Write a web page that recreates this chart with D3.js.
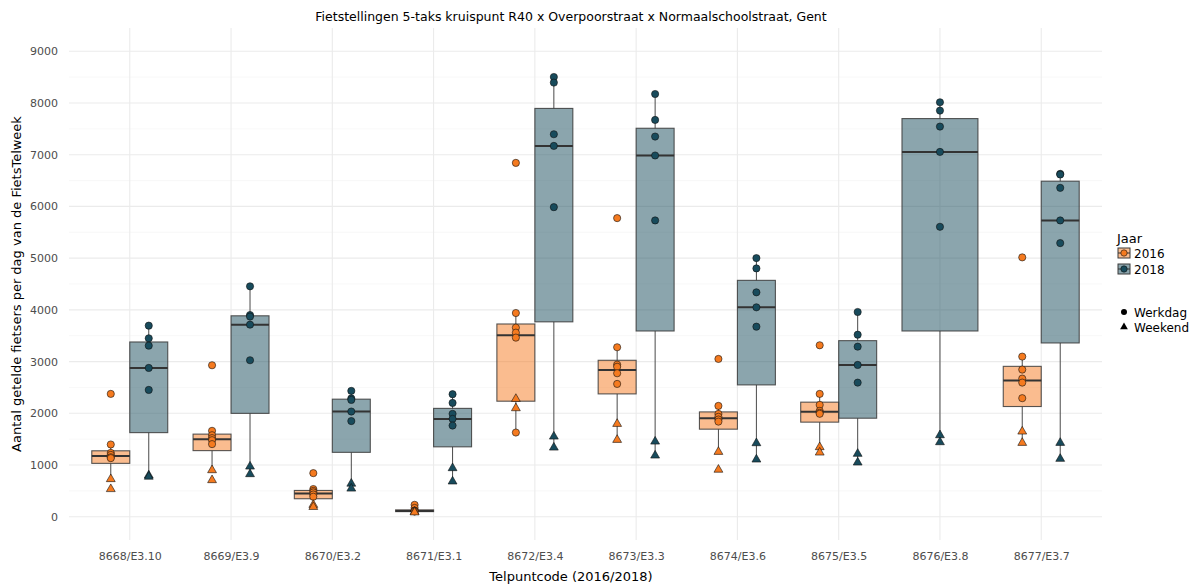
<!DOCTYPE html>
<html lang="nl">
<head>
<meta charset="UTF-8">
<title>Fietstellingen R40</title>
<style>
  body { margin: 0; background: #ffffff; }
  svg { display: block; font-family: "DejaVu Sans", sans-serif; }
</style>
<script src="https://d3js.org/d3.v7.min.js"></script>
</head>
<body>
<script>
const width = 1200;
const height = 588;

// telpunten
const categories = ["8668/E3.10", "8669/E3.9", "8670/E3.2", "8671/E3.1", "8672/E3.4",
                    "8673/E3.3", "8674/E3.6", "8675/E3.5", "8676/E3.8", "8677/E3.7"];
const years = ["2016", "2018"];

const werkdag2016 = [
  [2375, 1397, 1234, 1195, 1150, 1133],
  [2929, 1661, 1576, 1520, 1480, 1404],
  [843, 535, 499, 470, 430, 387],
  [230, 170, 120, 115, 110, 100],
  [6842, 3939, 3656, 3559, 3463, 1628],
  [5774, 3277, 2941, 2900, 2774, 2568],
  [3051, 2143, 1988, 1932, 1880, 1839],
  [3315, 2375, 2162, 2046, 2010, 1990],
  [],
  [5015, 3096, 2845, 2671, 2593, 2292]
];
const weekend2016 = [
  [728, 535],
  [901, 708],
  [230, 190],
  [95, 85],
  [2279, 2099],
  [1796, 1487],
  [1255, 910],
  [1346, 1242],
  [],
  [1648, 1429]
];
const werkdag2018 = [
  [3695, 3450, 3308, 2877, 2452],
  [4455, 3900, 3870, 3714, 3026],
  [2433, 2287, 2259, 2034, 1850],
  [2369, 2201, 1989, 1892, 1763],
  [8503, 8394, 7396, 7170, 5986],
  [8174, 7672, 7351, 6985, 5729],
  [5001, 4802, 4339, 4049, 3675],
  [3959, 3520, 3289, 2935, 2593],
  [8014, 7853, 7544, 7054, 5606],
  [6630, 6617, 6359, 5729, 5291]
];
const weekend2018 = [
  [800, 775],
  [971, 824],
  [640, 545],
  [940, 682],
  [1551, 1338],
  [1454, 1184],
  [1423, 1107],
  [1217, 1049],
  [1577, 1442],
  [1429, 1120]
];
const yTicks = [0, 1000, 2000, 3000, 4000, 5000, 6000, 7000, 8000, 9000];
const yMinor = [500, 1500, 2500, 3500, 4500, 5500, 6500, 7500, 8500];

const colors = { "2016": "#f57a1f", "2018": "#184b5c" };

const panel = { left: 69, right: 1102, top: 28, bottom: 540 };

const x = d3.scalePoint()
  .domain(categories)
  .range([panel.left, panel.right])
  .padding(0.6);
const step = x.step();

const y = d3.scaleLinear()
  .domain([-450, 9450])
  .range([panel.bottom, panel.top]);

const svg = d3.select("body").append("svg")
  .attr("width", width)
  .attr("height", height);

// rooster
svg.append("g").selectAll("line")
  .data(yMinor).join("line")
  .attr("x1", panel.left).attr("x2", panel.right)
  .attr("y1", d => y(d)).attr("y2", d => y(d))
  .attr("stroke", "#f4f4f4").attr("stroke-width", 0.6);
svg.append("g").selectAll("line")
  .data(yTicks).join("line")
  .attr("x1", panel.left).attr("x2", panel.right)
  .attr("y1", d => y(d)).attr("y2", d => y(d))
  .attr("stroke", "#ebebeb").attr("stroke-width", 1.1);
svg.append("g").selectAll("line")
  .data(categories).join("line")
  .attr("x1", d => x(d)).attr("x2", d => x(d))
  .attr("y1", panel.top).attr("y2", panel.bottom)
  .attr("stroke", "#ebebeb").attr("stroke-width", 1.1);

// assen
const yAxis = svg.append("g")
  .attr("transform", `translate(${panel.left - 11},0)`)
  .call(d3.axisLeft(y).tickValues(yTicks).tickFormat(d3.format("d")).tickSize(0).tickPadding(0));
const xAxis = svg.append("g")
  .attr("transform", `translate(0,${panel.bottom + 12})`)
  .call(d3.axisBottom(x).tickSize(0).tickPadding(0));
[yAxis, xAxis].forEach(g => {
  g.select(".domain").remove();
  g.selectAll("text")
    .attr("fill", "#4d4d4d")
    .style("font-size", "11px")
    .style("font-family", "DejaVu Sans");
});
xAxis.selectAll("text").attr("dy", "0.71em");

// boxplot statistieken
function boxStats(values) {
  const v = values.slice().sort(d3.ascending);
  const q1 = d3.quantileSorted(v, 0.25);
  const med = d3.quantileSorted(v, 0.5);
  const q3 = d3.quantileSorted(v, 0.75);
  const iqr = q3 - q1;
  const lo = d3.min(v.filter(d => d >= q1 - 1.5 * iqr));
  const hi = d3.max(v.filter(d => d <= q3 + 1.5 * iqr));
  return { q1, med, q3, lo, hi };
}

const groups = [];
categories.forEach((c, i) => {
  const present = [];
  if (werkdag2016[i].length + weekend2016[i].length > 0)
    present.push({ year: "2016", werk: werkdag2016[i], weekend: weekend2016[i] });
  if (werkdag2018[i].length + weekend2018[i].length > 0)
    present.push({ year: "2018", werk: werkdag2018[i], weekend: weekend2018[i] });
  const bw = 0.75 * step / present.length;
  present.forEach((p, j) => {
    const cx = x(c) - 0.375 * step + bw * (j + 0.5);
    groups.push(Object.assign({ cat: c, cx, bw }, p, boxStats(p.werk.concat(p.weekend))));
  });
});

const boxG = svg.append("g");
groups.forEach(g => {
  boxG.append("line")
    .attr("x1", g.cx).attr("x2", g.cx)
    .attr("y1", y(g.q3)).attr("y2", y(g.hi))
    .attr("stroke", "#4a4a4a").attr("stroke-width", 1);
  boxG.append("line")
    .attr("x1", g.cx).attr("x2", g.cx)
    .attr("y1", y(g.q1)).attr("y2", y(g.lo))
    .attr("stroke", "#4a4a4a").attr("stroke-width", 1);
  boxG.append("rect")
    .attr("x", g.cx - g.bw / 2)
    .attr("y", y(g.q3))
    .attr("width", g.bw)
    .attr("height", Math.max(y(g.q1) - y(g.q3), 0.5))
    .attr("fill", colors[g.year]).attr("fill-opacity", 0.5)
    .attr("stroke", "#3a3a3a").attr("stroke-opacity", 0.85).attr("stroke-width", 1.1);
  boxG.append("line")
    .attr("x1", g.cx - g.bw / 2).attr("x2", g.cx + g.bw / 2)
    .attr("y1", y(g.med)).attr("y2", y(g.med))
    .attr("stroke", "#333333").attr("stroke-width", 2);
});

// punten
const ptG = svg.append("g");
const tri = d3.symbol().type(d3.symbolTriangle).size(34);
groups.forEach(g => {
  g.werk.forEach(v => {
    ptG.append("circle")
      .attr("cx", g.cx).attr("cy", y(v)).attr("r", 3.6)
      .attr("fill", colors[g.year]).attr("stroke", "#111").attr("stroke-width", 0.6);
  });
  g.weekend.forEach(v => {
    ptG.append("path")
      .attr("d", tri)
      .attr("transform", `translate(${g.cx},${y(v)})`)
      .attr("fill", colors[g.year]).attr("stroke", "#111").attr("stroke-width", 0.6);
  });
});

// titels
svg.append("text")
  .attr("x", 571).attr("y", 21)
  .attr("text-anchor", "middle")
  .style("font-size", "12.5px")
  .text("Fietstellingen 5-taks kruispunt R40 x Overpoorstraat x Normaalschoolstraat, Gent");
svg.append("text")
  .attr("x", 571).attr("y", 581)
  .attr("text-anchor", "middle")
  .style("font-size", "13px")
  .text("Telpuntcode (2016/2018)");
svg.append("text")
  .attr("transform", `translate(21,${(panel.top + panel.bottom) / 2}) rotate(-90)`)
  .attr("text-anchor", "middle")
  .style("font-size", "13px")
  .text("Aantal getelde fietsers per dag van de FietsTelweek");

// legenda
const leg = svg.append("g");
leg.append("text").attr("x", 1117).attr("y", 243)
  .style("font-size", "13px").text("Jaar");
years.forEach((yr, i) => {
  const cy = 253 + i * 16;
  leg.append("rect")
    .attr("x", 1118).attr("y", cy - 5).attr("width", 12).attr("height", 10)
    .attr("fill", colors[yr]).attr("fill-opacity", 0.5)
    .attr("stroke", "#3a3a3a").attr("stroke-width", 1);
  leg.append("line")
    .attr("x1", 1118).attr("x2", 1130).attr("y1", cy).attr("y2", cy)
    .attr("stroke", "#333").attr("stroke-width", 1);
  leg.append("circle")
    .attr("cx", 1124).attr("cy", cy).attr("r", 3.2)
    .attr("fill", colors[yr]).attr("stroke", "#111").attr("stroke-width", 0.6);
  leg.append("text").attr("x", 1134).attr("y", cy + 4.5)
    .style("font-size", "12px").text(yr);
});
const shapes = ["Werkdag", "Weekend"];
shapes.forEach((s, i) => {
  const cy = 312 + i * 15;
  if (i === 0) {
    leg.append("circle").attr("cx", 1124).attr("cy", cy).attr("r", 3).attr("fill", "#000");
  } else {
    leg.append("path").attr("d", d3.symbol().type(d3.symbolTriangle).size(26))
      .attr("transform", `translate(1124,${cy})`).attr("fill", "#000");
  }
  leg.append("text").attr("x", 1134).attr("y", cy + 4.5)
    .style("font-size", "12px").text(s);
});
</script>
</body>
</html>
